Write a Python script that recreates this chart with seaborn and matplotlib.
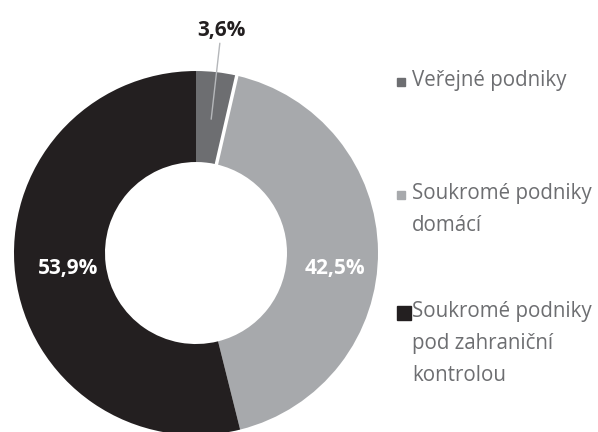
import numpy as np
import matplotlib.pyplot as plt
import seaborn as sns

# data
categories = ["Veřejné podniky", "Soukromé podniky\ndomácí",
              "Soukromé podniky\npod zahraniční\nkontrolou"]
shares = [3.6, 42.5, 53.9]
pct_labels = ["3,6%", "42,5%", "53,9%"]
colors = ["#6d6e71", "#a7a9ac", "#231f20"]

sns.set_theme(style="white")
plt.rcParams['font.family'] = ['Open Sans', 'DejaVu Sans']

fig = plt.figure(figsize=(5.98, 4.32), dpi=100)
ax = fig.add_axes([0.0234, -0.007, 0.6087, 0.8426])
wedges, _ = ax.pie(shares, colors=colors, startangle=90, counterclock=False,
                   radius=1, wedgeprops=dict(width=0.5, edgecolor='none'))
ax.set_xlim(-1, 1)
ax.set_ylim(-1, 1)
ax.axis('off')

# thin white gap between the first two slices
b = np.deg2rad(wedges[0].theta1)
ax.plot([0.48 * np.cos(b), 1.02 * np.cos(b)], [0.48 * np.sin(b), 1.02 * np.sin(b)],
        color='white', lw=2.5, solid_capstyle='butt', clip_on=False)

# value labels
for i, w in enumerate(wedges):
    mid = np.deg2rad((w.theta1 + w.theta2) / 2)
    if i == 0:
        ax.plot([0.74 * np.cos(mid), 1.16 * np.cos(mid)],
                [0.74 * np.sin(mid), 1.16 * np.sin(mid)], color='#b5b7ba', lw=1,
                clip_on=False)
        ax.text(1.25 * np.cos(mid), 1.23 * np.sin(mid), pct_labels[i], ha='center', va='center',
                fontsize=15, fontweight='bold', color='#231f20')
    elif i == 1:
        a = mid - np.deg2rad(7)
        ax.text(0.77 * np.cos(a), 0.77 * np.sin(a), pct_labels[i], ha='center', va='center',
                fontsize=15, fontweight='bold', color='white')
    else:
        ax.text(0.71 * np.cos(mid), 0.71 * np.sin(mid), pct_labels[i], ha='center', va='center',
                fontsize=15, fontweight='bold', color='white')

# legend, drawn by hand
leg_y = [0.810, 0.549, 0.275]
msize = [5.5, 5.5, 9.5]
mx = [0.670, 0.670, 0.6755]
for cat, col, y, ms, x in zip(categories, colors, leg_y, msize, mx):
    fig.text(0.689, y + 0.028, cat, ha='left', va='top', fontsize=14.8, color='#6d6e71',
             linespacing=1.68)
    fig.lines.append(plt.Line2D([x], [y], marker='s', markersize=ms,
                                color=col, transform=fig.transFigure, linestyle='none'))

fig.savefig("out.png", dpi=100)
